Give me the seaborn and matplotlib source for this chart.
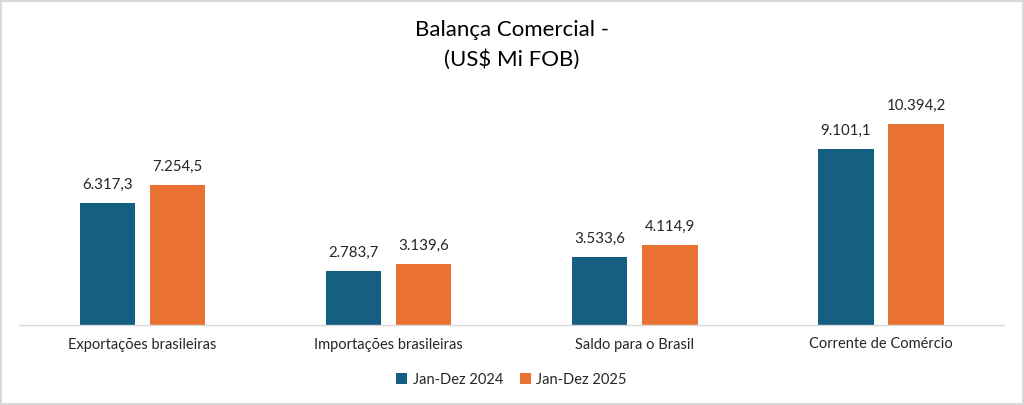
import pandas as pd
import matplotlib.pyplot as plt
import seaborn as sns

categorias = ["Exportações brasileiras", "Importações brasileiras",
              "Saldo para o Brasil", "Corrente de Comércio"]
valores_2024 = [6317.3, 2783.7, 3533.6, 9101.1]
valores_2025 = [7254.5, 3139.6, 4114.9, 10394.2]
series = ["Jan-Dez 2024", "Jan-Dez 2025"]

df = pd.DataFrame({
    "Categoria": categorias * 2,
    "Valor": valores_2024 + valores_2025,
    "Periodo": [series[0]] * 4 + [series[1]] * 4,
})

sns.set_theme(style="white")
plt.rcParams['font.family'] = ['Lato', 'DejaVu Sans']

fig = plt.figure(figsize=(10.24, 4.05), dpi=100)
ax = fig.add_axes([19.4 / 1024, 1 - 325 / 405, 984.6 / 1024, 232 / 405])

sns.barplot(data=df, x="Categoria", y="Valor", hue="Periodo",
            palette=["#156082", "#E97132"], width=0.57, gap=0.21,
            saturation=1, linewidth=0, ax=ax, legend=True)

def fmt(v):
    s = f"{v:,.1f}"
    return s.replace(",", "X").replace(".", ",").replace("X", ".")

for cont in ax.containers:
    ax.bar_label(cont, labels=[fmt(b.get_height()) for b in cont],
                 padding=8, fontsize=10.8, color="#262626")

ax.set_ylim(0, 12000)
ax.set_yticks([])
ax.set_xlabel("")
ax.set_ylabel("")
ax.tick_params(axis="x", labelsize=10.5, colors="#262626", length=0, pad=9)
for s in ["top", "right", "left"]:
    ax.spines[s].set_visible(False)
ax.spines["bottom"].set_color("#D9D9D9")
ax.spines["bottom"].set_linewidth(1)

ax.legend(loc="center", bbox_to_anchor=(0.5, -0.235), ncol=2, frameon=False,
          fontsize=10.5, handlelength=0.7, handleheight=0.7, handletextpad=0.4,
          columnspacing=1.2, labelcolor="#262626")

fig.text(0.5, 1 - 30 / 405, "Balança Comercial -", ha="center", va="center",
         fontsize=16, color="#000000")
fig.text(0.5, 1 - 60 / 405, "(US$ Mi FOB)", ha="center", va="center",
         fontsize=16, color="#000000")

border = plt.Rectangle((0.001, 0.002), 0.998, 0.996, transform=fig.transFigure,
                       fill=False, edgecolor="#D9D9D9", linewidth=1.5)
fig.add_artist(border)

fig.savefig("out.png", dpi=100)
